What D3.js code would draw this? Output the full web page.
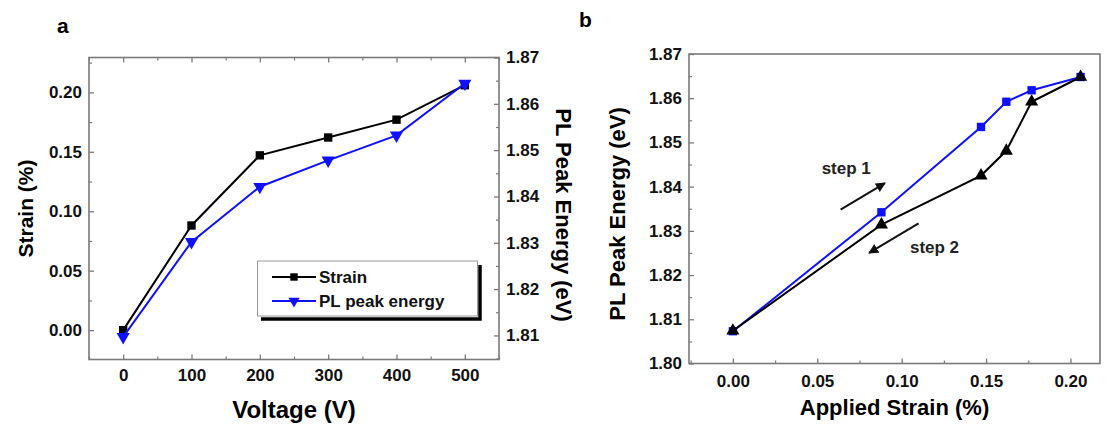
<!DOCTYPE html>
<html>
<head>
<meta charset="utf-8">
<script src="https://cdn.jsdelivr.net/npm/d3@7"></script>
<style>
  body { margin: 0; background: #fff; }
  text { font-family: "Liberation Sans", Arial, sans-serif; font-weight: bold; }
</style>
</head>
<body>
<script>
// panel a: strain and PL peak energy vs voltage
const voltage = [0, 100, 200, 300, 400, 500];
const strainA = [0.000, 0.088, 0.147, 0.162, 0.177, 0.206];
const plA = [1.8097, 1.8302, 1.8421, 1.8478, 1.8532, 1.8644];

// panel b: PL peak energy vs applied strain
const strainB = [0.000, 0.088, 0.147, 0.162, 0.177, 0.206];
const step1 = [1.8073, 1.8342, 1.8535, 1.8592, 1.8618, 1.8648];
const step2 = [1.8074, 1.8314, 1.8425, 1.8481, 1.8592, 1.8648];

// tick labels
const voltTicks = [0, 100, 200, 300, 400, 500];
const strainTicks = [0, 0.05, 0.10, 0.15, 0.20];
const plTicksA = [1.81, 1.82, 1.83, 1.84, 1.85, 1.86, 1.87];
const plTicksB = [1.80, 1.81, 1.82, 1.83, 1.84, 1.85, 1.86, 1.87];
const appliedTicks = [0, 0.05, 0.10, 0.15, 0.20];

const grey = "#7a7a7a";
const blue = "#1010ff";

let svg = d3.select("body").append("svg")
  .attr("width", 1117)
  .attr("height", 426);

// minor tick values between the major ones
function minors(ticks) {
  let out = [];
  for (let i = 0; i < ticks.length - 1; i++) out.push((ticks[i] + ticks[i + 1]) / 2);
  out.push(ticks[0] - (ticks[1] - ticks[0]) / 2);
  out.push(ticks[ticks.length - 1] + (ticks[1] - ticks[0]) / 2);
  return out;
}

function drawAxis(g, axisFn, scale, ticks, fmt, pad, labels) {
  let [d0, d1] = scale.domain();
  let lo = Math.min(d0, d1) - 1e-9, hi = Math.max(d0, d1) + 1e-9;
  let mi = minors(ticks).filter(v => v >= lo && v <= hi);
  let major = axisFn(scale).tickValues(ticks).tickSize(-5).tickSizeOuter(0)
    .tickPadding(pad).tickFormat(labels ? fmt : "");
  let minor = axisFn(scale).tickValues(mi).tickSize(-3).tickSizeOuter(0).tickFormat("");
  g.append("g").call(major).call(s => s.select(".domain").remove())
    .call(s => s.selectAll("line").attr("stroke", grey).attr("stroke-width", 1.3))
    .call(s => s.selectAll("text").attr("fill", "#111").style("font-size", "17px"));
  g.append("g").call(minor).call(s => s.select(".domain").remove())
    .call(s => s.selectAll("line").attr("stroke", grey).attr("stroke-width", 1.2));
}

function markers(g, xs, ys, x, y, shape, color, size) {
  g.selectAll(null).data(xs).enter().append("path")
    .attr("d", d3.symbol().type(shape).size(size))
    .attr("transform", (d, i) => {
      let rot = shape === d3.symbolTriangle && color === blue ? " rotate(180)" : "";
      return "translate(" + x(d) + "," + y(ys[i]) + ")" + rot;
    })
    .attr("fill", color);
}

function series(g, xs, ys, x, y, color) {
  let line = d3.line().x(d => x(d[0])).y(d => y(d[1]));
  g.append("path").datum(xs.map((d, i) => [d, ys[i]]))
    .attr("d", line).attr("fill", "none").attr("stroke", color).attr("stroke-width", 2);
}

// ---------- panel a ----------
const A = {left: 89, right: 499, top: 57.5, bottom: 359.5};
let xA = d3.scaleLinear().domain([-50, 550]).range([A.left, A.right]);
let yA = d3.scaleLinear().domain([-0.0247, 0.2293]).range([A.bottom, A.top]);
let yA2 = d3.scaleLinear().domain([1.8048, 1.87]).range([A.bottom, A.top]);

let ga = svg.append("g");
drawAxis(ga.append("g").attr("transform", "translate(0," + A.bottom + ")"), d3.axisBottom, xA, voltTicks, d3.format("d"), 9, true);
drawAxis(ga.append("g").attr("transform", "translate(0," + A.top + ")"), d3.axisTop, xA, voltTicks, null, 0, false);
drawAxis(ga.append("g").attr("transform", "translate(" + A.left + ",0)"), d3.axisLeft, yA, strainTicks, d3.format(".2f"), 7, true);
drawAxis(ga.append("g").attr("transform", "translate(" + A.right + ",0)"), d3.axisRight, yA2, plTicksA, d3.format(".2f"), 7, true);

ga.append("rect")
  .attr("x", A.left).attr("y", A.top)
  .attr("width", A.right - A.left).attr("height", A.bottom - A.top)
  .attr("fill", "none").attr("stroke", grey).attr("stroke-width", 1.6);

series(ga, voltage, strainA, xA, yA, "#000");
markers(ga, voltage, strainA, xA, yA, d3.symbolSquare, "#000", 70);
series(ga, voltage, plA, xA, yA2, blue);
markers(ga, voltage, plA, xA, yA2, d3.symbolTriangle, blue, 75);

// legend
let lg = ga.append("g");
lg.append("path").attr("d", "M480,265 V319 H261").attr("fill", "none")
  .attr("stroke", "#000").attr("stroke-width", 3.5);
lg.append("rect").attr("x", 257.5).attr("y", 261).attr("width", 220).attr("height", 55)
  .attr("fill", "#fff").attr("stroke", "#999").attr("stroke-width", 1);
const legendItems = [["Strain", "#000", d3.symbolSquare], ["PL peak energy", blue, d3.symbolTriangle]];
legendItems.forEach((it, i) => {
  let ly = 277 + i * 24;
  lg.append("line").attr("x1", 272).attr("x2", 316).attr("y1", ly).attr("y2", ly)
    .attr("stroke", it[1]).attr("stroke-width", 2);
  lg.append("path").attr("d", d3.symbol().type(it[2]).size(55)())
    .attr("transform", "translate(294," + ly + ")" + (i ? " rotate(180)" : ""))
    .attr("fill", it[1]);
  lg.append("text").attr("x", 319).attr("y", ly + 6).text(it[0])
    .style("font-size", "17px").attr("fill", "#111");
});

ga.append("text").attr("x", (A.left + A.right) / 2).attr("y", 418)
  .attr("text-anchor", "middle").style("font-size", "24px").text("Voltage (V)");
ga.append("text").attr("transform", "translate(33," + (A.top + A.bottom) / 2 + ") rotate(-90)")
  .attr("text-anchor", "middle").style("font-size", "21px").text("Strain (%)");
ga.append("text").attr("transform", "translate(556," + 215 + ") rotate(90)")
  .attr("text-anchor", "middle").style("font-size", "22px").text("PL Peak Energy (eV)");
ga.append("text").attr("x", 57).attr("y", 33).style("font-size", "21px").text("a");

// ---------- panel b ----------
const B = {left: 689, right: 1100, top: 54, bottom: 363.5};
let xB = d3.scaleLinear().domain([-0.026, 0.2175]).range([B.left, B.right]);
let yB = d3.scaleLinear().domain([1.80, 1.87]).range([B.bottom, B.top]);

let gb = svg.append("g");
drawAxis(gb.append("g").attr("transform", "translate(0," + B.bottom + ")"), d3.axisBottom, xB, appliedTicks, d3.format(".2f"), 11, true);
drawAxis(gb.append("g").attr("transform", "translate(" + B.left + ",0)"), d3.axisLeft, yB, plTicksB, d3.format(".2f"), 7, true);

gb.append("rect")
  .attr("x", B.left).attr("y", B.top)
  .attr("width", B.right - B.left).attr("height", B.bottom - B.top)
  .attr("fill", "none").attr("stroke", grey).attr("stroke-width", 1.6);

series(gb, strainB, step1, xB, yB, blue);
markers(gb, strainB, step1, xB, yB, d3.symbolSquare, blue, 70);
series(gb, strainB, step2, xB, yB, "#000");
markers(gb, strainB, step2, xB, yB, d3.symbolTriangle, "#000", 75);

// step arrows, placed in data units
const arrows = [
  {x1: 0.0638, y1: 1.8348, x2: 0.0901, y2: 1.8408, label: "step 1", tx: 0.0526, ty: 1.8428},
  {x1: 0.1100, y1: 1.8317, x2: 0.0807, y2: 1.8250, label: "step 2", tx: 0.1049, ty: 1.8251}
];
svg.append("defs").append("marker").attr("id", "ah")
  .attr("viewBox", "0 0 10 10").attr("refX", 9).attr("refY", 5)
  .attr("markerWidth", 5).attr("markerHeight", 5).attr("orient", "auto")
  .append("path").attr("d", "M0,0 L10,5 L0,10 z").attr("fill", "#111");
arrows.forEach(a => {
  gb.append("line")
    .attr("x1", xB(a.x1)).attr("y1", yB(a.y1)).attr("x2", xB(a.x2)).attr("y2", yB(a.y2))
    .attr("stroke", "#111").attr("stroke-width", 2).attr("marker-end", "url(#ah)");
  gb.append("text").attr("x", xB(a.tx)).attr("y", yB(a.ty))
    .style("font-size", "17px").attr("fill", "#222").text(a.label);
});

gb.append("text").attr("x", (B.left + B.right) / 2).attr("y", 415)
  .attr("text-anchor", "middle").style("font-size", "22px").text("Applied Strain (%)");
gb.append("text").attr("transform", "translate(625," + 214 + ") rotate(-90)")
  .attr("text-anchor", "middle").style("font-size", "22px").text("PL Peak Energy  (eV)");
gb.append("text").attr("x", 579).attr("y", 27).style("font-size", "21px").text("b");
</script>
</body>
</html>
